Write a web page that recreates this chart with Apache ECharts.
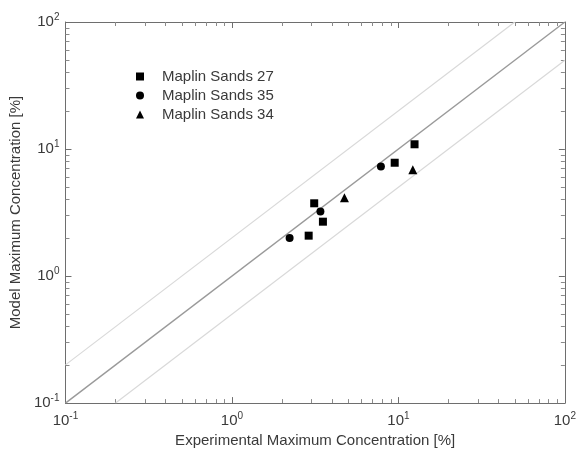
<!DOCTYPE html>
<html>
<head>
<meta charset="utf-8">
<script src="https://cdn.jsdelivr.net/npm/echarts@6/dist/echarts.min.js"></script>
<style>html,body{margin:0;padding:0;background:#fff}#c{width:579px;height:453px}</style>
</head>
<body>
<div id="c"></div>
<script>
// ---- data ----
const seriesNames = ['Maplin Sands 27', 'Maplin Sands 35', 'Maplin Sands 34'];
const sands27 = [[12.5, 10.9], [9.5, 7.8], [3.12, 3.74], [3.52, 2.68], [2.89, 2.08]];
const sands35 = [[2.22, 1.99], [3.40, 3.22], [7.85, 7.3]];
const sands34 = [[4.74, 4.14], [12.2, 6.87]];
const lineOneToOne = [[0.1, 0.1], [100, 100]];
const lineFactorTwoUp = [[0.1, 0.2], [50, 100]];
const lineFactorTwoDown = [[0.2, 0.1], [100, 50]];
const axisMin = 0.1, axisMax = 100;
const decades = [0.1, 1, 10];
const minorMultipliers = [2, 3, 4, 5, 6, 7, 8, 9];
const xTitle = 'Experimental Maximum Concentration [%]';
const yTitle = 'Model Maximum Concentration [%]';

const minorTicks = [];
decades.forEach(d => minorMultipliers.forEach(m => minorTicks.push(+(d * m).toPrecision(3))));

const FONT = 'Liberation Sans, Arial, sans-serif';
const TXT = '#3a3a3a';
const FRAME = '#6e6e6e';

function expLabel(v) {
  const e = Math.round(Math.log10(v));
  return '{b|10}{s|' + (e < 0 ? '-' + (-e) : e) + '}';
}
const rich = {
  b: { fontSize: 15, fontFamily: FONT, color: TXT },
  s: { fontSize: 10, fontFamily: FONT, color: TXT, padding: [0, 0, 9, 0] }
};

const baseAxis = {
  type: 'log', logBase: 10, min: axisMin, max: axisMax,
  splitLine: { show: false },
  axisLine: { show: true, lineStyle: { color: FRAME, width: 1 } },
  axisTick: { show: true, inside: true, length: 6, lineStyle: { color: FRAME } },
  minorTick: { show: false }
};
function minorAxis(pos) {
  return {
    type: 'log', logBase: 10, min: axisMin, max: axisMax, position: pos,
    splitLine: { show: false },
    axisLine: { show: false },
    axisLabel: { show: false },
    axisTick: { show: true, inside: true, length: 4, customValues: minorTicks,
      lineStyle: { color: '#8a8a8a', width: 1 } }
  };
}

const chart = echarts.init(document.getElementById('c'), null, { renderer: 'canvas' });

chart.setOption({
  backgroundColor: '#fff',
  animation: false,
  grid: { left: 63, right: 12, top: 22, bottom: 45, containLabel: false },
  legend: {
    data: seriesNames,
    orient: 'vertical', left: 131, top: 64, itemGap: 4,
    itemWidth: 8, itemHeight: 8,
    textStyle: { fontSize: 15, fontFamily: FONT, color: TXT, padding: [0, 0, 0, 13] }
  },
  xAxis: [
    Object.assign({}, baseAxis, {
      position: 'bottom',
      name: xTitle, nameLocation: 'middle', nameGap: 27,
      nameTextStyle: { fontSize: 15, fontFamily: FONT, color: TXT },
      axisLabel: { formatter: expLabel, rich: rich, margin: 8 }
    }),
    Object.assign({}, baseAxis, { position: 'top', axisLabel: { show: false } }),
    minorAxis('bottom'),
    minorAxis('top')
  ],
  yAxis: [
    Object.assign({}, baseAxis, {
      position: 'left',
      name: yTitle, nameLocation: 'middle', nameGap: 38,
      nameTextStyle: { fontSize: 15, fontFamily: FONT, color: TXT },
      axisLabel: { formatter: expLabel, rich: rich, margin: 6 }
    }),
    Object.assign({}, baseAxis, { position: 'right', axisLabel: { show: false } }),
    minorAxis('left'),
    minorAxis('right')
  ],
  series: [
    { type: 'line', data: lineFactorTwoUp, symbol: 'none', silent: true,
      lineStyle: { color: '#d9d9d9', width: 1.2 }, z: 1 },
    { type: 'line', data: lineFactorTwoDown, symbol: 'none', silent: true,
      lineStyle: { color: '#d9d9d9', width: 1.2 }, z: 1 },
    { type: 'line', data: lineOneToOne, symbol: 'none', silent: true,
      lineStyle: { color: '#9a9a9a', width: 1.4 }, z: 1 },
    { name: seriesNames[0], type: 'scatter', data: sands27, symbol: 'rect', symbolSize: 8,
      itemStyle: { color: '#000', opacity: 1 }, z: 5 },
    { name: seriesNames[1], type: 'scatter', data: sands35, symbol: 'circle', symbolSize: 8,
      itemStyle: { color: '#000', opacity: 1 }, z: 5 },
    { name: seriesNames[2], type: 'scatter', data: sands34, symbol: 'triangle', symbolSize: 9,
      itemStyle: { color: '#000', opacity: 1 }, z: 5 }
  ]
});
</script>
</body>
</html>
